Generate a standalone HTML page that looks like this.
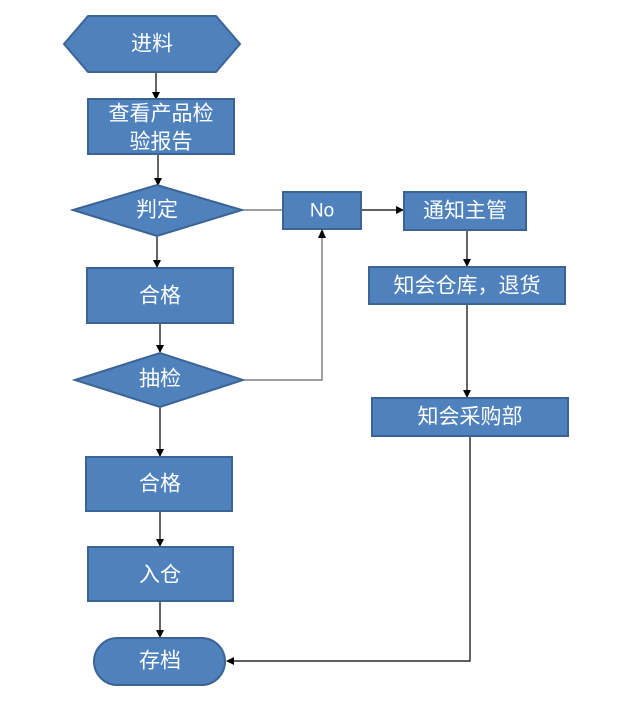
<!DOCTYPE html>
<html><head><meta charset="utf-8"><style>
html,body{margin:0;padding:0;background:#fff;}
svg{display:block;}
text{font-family:"Liberation Sans","Noto Sans CJK SC",sans-serif;fill:#fff;font-size:21px;text-anchor:middle;dominant-baseline:central;}
.s{fill:#4f81bd;stroke:#3b6494;stroke-width:2;}
.l{stroke:#000;stroke-width:1.2;fill:none;}
.g{stroke:#666;stroke-width:1.2;fill:none;}
</style></head><body>
<svg width="640" height="707" viewBox="0 0 640 707" xmlns="http://www.w3.org/2000/svg">
<defs><marker id="a" markerWidth="8" markerHeight="8" refX="7" refY="4" orient="auto" markerUnits="userSpaceOnUse"><path d="M0,0 L8,4 L0,8 z" fill="#000"/></marker></defs>
<!-- connectors -->
<line class="l" x1="156" y1="72" x2="156" y2="99" marker-end="url(#a)"/>
<line class="l" x1="158" y1="154" x2="158" y2="185" marker-end="url(#a)"/>
<line class="l" x1="157" y1="236" x2="157" y2="267" marker-end="url(#a)"/>
<line class="l" x1="160" y1="323" x2="160" y2="352" marker-end="url(#a)"/>
<line class="l" x1="160" y1="407" x2="160" y2="456" marker-end="url(#a)"/>
<line class="l" x1="160" y1="511" x2="160" y2="546" marker-end="url(#a)"/>
<line class="l" x1="160" y1="601" x2="160" y2="637" marker-end="url(#a)"/>
<line class="g" x1="242" y1="210" x2="283" y2="210"/>
<line class="l" x1="361" y1="210" x2="403" y2="210" marker-end="url(#a)"/>
<polyline class="g" points="243,380 322,380 322,231"/>
<path d="M318,238 L322,229 L326,238 z" fill="#000"/>
<line class="l" x1="467" y1="230" x2="467" y2="266" marker-end="url(#a)"/>
<line class="l" x1="467" y1="304" x2="467" y2="397" marker-end="url(#a)"/>
<polyline class="l" points="470,436 470,661 227,661" marker-end="url(#a)"/>
<!-- shapes -->
<polygon class="s" points="64,44 88,16 216,16 240,44 216,72 88,72"/>
<text x="152" y="44">进料</text>
<rect class="s" x="88" y="99" width="146" height="55"/>
<text x="161" y="114">查看产品检</text>
<text x="161" y="142">验报告</text>
<polygon class="s" points="73,210 157,185 242,210 157,236"/>
<text x="157" y="210">判定</text>
<rect class="s" x="283" y="192" width="78" height="37"/>
<text x="322" y="211" style="font-size:19px">No</text>
<rect class="s" x="404" y="192" width="122" height="38"/>
<text x="465" y="211">通知主管</text>
<rect class="s" x="369" y="267" width="196" height="37"/>
<text x="467" y="286">知会仓库，退货</text>
<rect class="s" x="87" y="268" width="146" height="55"/>
<text x="160" y="296">合格</text>
<polygon class="s" points="75,380 160,353 243,380 160,407"/>
<text x="160" y="379">抽检</text>
<rect class="s" x="372" y="398" width="196" height="38"/>
<text x="470" y="417">知会采购部</text>
<rect class="s" x="86" y="457" width="146" height="54"/>
<text x="160" y="484">合格</text>
<rect class="s" x="88" y="547" width="145" height="54"/>
<text x="160" y="575">入仓</text>
<rect class="s" x="94" y="638" width="131" height="47" rx="23.5" ry="23.5"/>
<text x="160" y="661">存档</text>
</svg>
</body></html>
